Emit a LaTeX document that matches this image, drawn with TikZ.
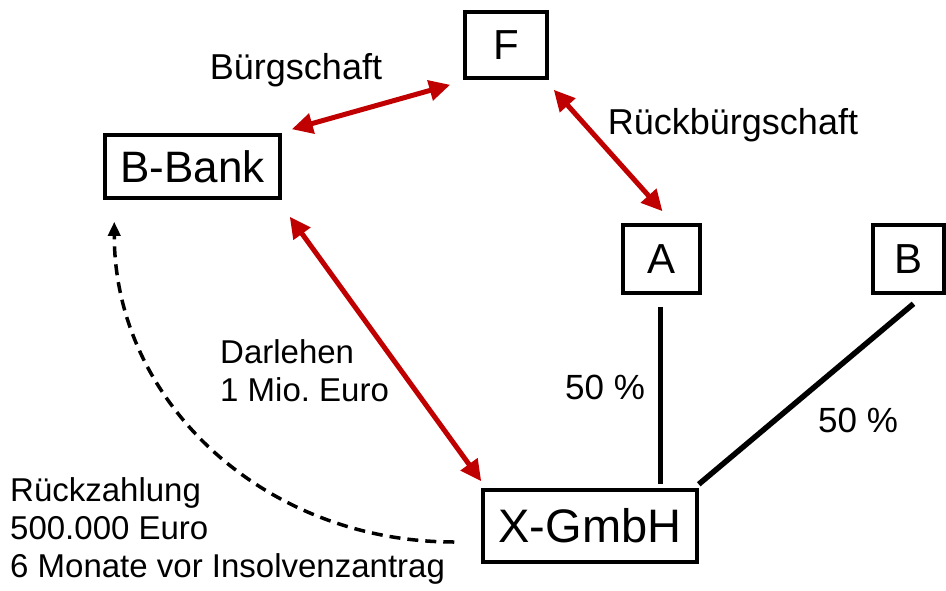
\documentclass[tikz,border=0pt]{standalone}
\usepackage{fontspec}
\setmainfont{Liberation Sans}
\usetikzlibrary{arrows.meta}
\definecolor{darkred}{RGB}{192,0,0}
\begin{document}
\begin{tikzpicture}[x=1pt,y=-1pt,
  box/.style={draw,line width=3.5pt,inner sep=0pt,font=\fontsize{42}{46}\selectfont},
  lbl/.style={inner sep=0pt,font=\fontsize{33}{38}\selectfont,align=left},
  pct/.style={inner sep=0pt,font=\fontsize{35}{40}\selectfont},
  biglbl/.style={inner sep=0pt,font=\fontsize{36}{40}\selectfont},
  redarrow/.style={draw=darkred,line width=5pt,{Triangle[length=21pt,width=20pt]}-{Triangle[length=21pt,width=20pt]}},
  share/.style={draw,line width=5.5pt},
  repay/.style={draw,line width=3.5pt,dash pattern=on 11pt off 7pt,-{Triangle[length=14pt,width=12pt]}}]
\useasboundingbox (0,0) rectangle (946,590);
\frenchspacing
\node[box,minimum width=82pt,minimum height=66pt] (f) at (506,45) {F};
\node[box,minimum width=175pt,minimum height=63pt,font=\fontsize{44}{48}\selectfont] (bbank) at (192.5,166.5) {B-Bank};
\node[box,minimum width=77pt,minimum height=68pt] (a) at (661.5,259) {A};
\node[box,minimum width=71pt,minimum height=68pt] (b) at (908.5,259) {B};
\node[box,minimum width=214pt,minimum height=72pt,font=\fontsize{47}{50}\selectfont] (x) at (590,526) {X-GmbH};
\node[biglbl] (lb) at (296,70) {Bürgschaft};
\node[biglbl] (lrb) at (733,125) {Rückbürgschaft};
\node[lbl,anchor=west] (ld) at (220,371) {Darlehen\\1 Mio. Euro};
\node[pct,anchor=west] (la) at (565,387) {50 \%};
\node[pct,anchor=west] (lbb) at (818,420) {50 \%};
\node[lbl,anchor=west] (lr) at (10,531) {Rückzahlung\\500.000 Euro\\6 Monate vor Insolvenzantrag};
\draw[redarrow] ([shift={(10,-4)}]bbank.north east) -- ([shift={(-13,5)}]f.south west);
\draw[redarrow] ([shift={(5,10)}]f.south east) -- ([shift={(1,-12)}]a.north);
\draw[redarrow] ([shift={(8,17)}]bbank.south east) -- ([shift={(0,-7)}]x.north west);
\draw[share] ([shift={(-1,12)}]a.south) -- ([shift={(-1,-4)}]a.south |- x.north);
\draw[share] ([shift={(5,9)}]b.south) -- ([shift={(0,-4)}]x.north east);
\draw[repay] ([shift={(-27,16)}]x.west) .. controls +(-190,0) and +(0,180) .. ([shift={(11,22)}]bbank.south west);
\end{tikzpicture}
\end{document}
